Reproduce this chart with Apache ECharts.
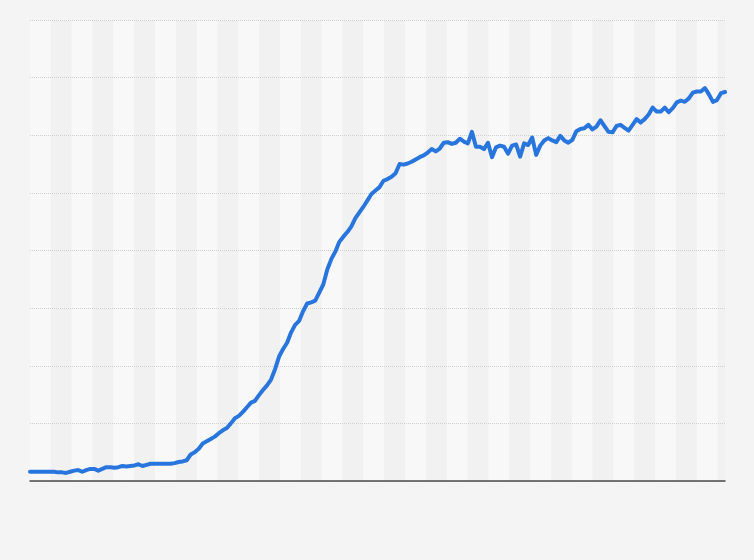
<!DOCTYPE html>
<html>
<head>
<meta charset="utf-8">
<script src="https://cdn.jsdelivr.net/npm/echarts@6/dist/echarts.min.js"></script>
<style>
  html, body { margin: 0; padding: 0; background: #f4f4f4; }
  #chart { width: 754px; height: 560px; }
</style>
</head>
<body>
<div id="chart"></div>
<script>
// Series values, y axis 0..80
const seriesValues = [
  1.6, 1.6, 1.6, 1.6, 1.6, 1.6, 1.6, 1.5, 1.5, 1.4,
  1.6, 1.8, 1.9, 1.6, 1.9, 2.1, 2.1, 1.8, 2.1, 2.4,
  2.4, 2.3, 2.4, 2.6, 2.5, 2.6, 2.7, 2.9, 2.6, 2.8,
  3.0, 3.0, 3.0, 3.0, 3.0, 3.0, 3.1, 3.3, 3.4, 3.6,
  4.6, 5.0, 5.6, 6.5, 6.9, 7.3, 7.7, 8.3, 8.8, 9.2,
  10.0, 10.9, 11.3, 12.0, 12.8, 13.6, 13.9, 14.9, 15.8, 16.6,
  17.6, 19.4, 21.6, 22.9, 24.0, 25.8, 27.1, 27.8, 29.5, 30.8,
  31.0, 31.3, 32.7, 34.1, 36.7, 38.5, 39.8, 41.5, 42.4, 43.2,
  44.2, 45.6, 46.6, 47.6, 48.7, 49.8, 50.4, 51.0, 52.1, 52.4,
  52.8, 53.4, 55.0, 54.9, 55.1, 55.4, 55.8, 56.2, 56.5, 57.0,
  57.6, 57.2, 57.7, 58.7, 58.8, 58.5, 58.7, 59.4, 58.9, 58.6,
  60.6, 58.0, 58.0, 57.6, 58.7, 56.2, 57.9, 58.2, 58.0, 56.8,
  58.2, 58.4, 56.3, 58.6, 58.3, 59.6, 56.6, 58.2, 59.1, 59.5,
  59.1, 58.8, 59.9, 59.1, 58.7, 59.2, 60.7, 61.1, 61.2, 61.8,
  61.0, 61.5, 62.6, 61.6, 60.6, 60.5, 61.6, 61.8, 61.3, 60.8,
  61.8, 62.8, 62.2, 62.8, 63.6, 64.8, 64.1, 64.1, 64.8, 64.0,
  64.7, 65.7, 66.0, 65.8, 66.4, 67.4, 67.6, 67.6, 68.2, 67.1,
  65.8, 66.1, 67.3, 67.5
];
// Category keys for the points (no labels are shown in the reference)
const categories = seriesValues.map((_, i) => String(i + 1));
// Y axis range and step (tick labels are hidden in the reference)
const yMin = 0, yMax = 80, yStep = 10;
// Number of alternating background bands across the plot
const bandCount = 33.35;

const chart = echarts.init(document.getElementById('chart'), null, { renderer: 'canvas' });
chart.setOption({
  backgroundColor: '#f4f4f4',
  animation: false,
  grid: { left: 30, right: 29, top: 20, bottom: 79, containLabel: false },
  xAxis: [
    {
      type: 'value',
      min: 0,
      max: bandCount,
      interval: 1,
      position: 'bottom',
      z: 1,
      axisLine: { show: false },
      axisTick: { show: false },
      axisLabel: { show: false },
      splitLine: { show: false },
      splitArea: { show: true, areaStyle: { color: ['#f8f8f8', '#f1f1f1'] } }
    },
    {
      type: 'category',
      data: categories,
      boundaryGap: false,
      position: 'bottom',
      show: true,
      z: 4,
      axisLine: { show: true, onZero: false, lineStyle: { color: '#4a4a4a', width: 1.5 } },
      axisTick: { show: false },
      axisLabel: { show: false },
      splitLine: { show: false },
      splitArea: { show: false }
    }
  ],
  yAxis: {
    type: 'value',
    min: yMin,
    max: yMax,
    interval: yStep,
    z: 3,
    axisLine: { show: false },
    axisTick: { show: false },
    axisLabel: { show: false },
    splitLine: { show: true, lineStyle: { color: '#d0d0d0', type: [1, 1], width: 1 } }
  },
  series: [{
    type: 'line',
    xAxisIndex: 1,
    data: seriesValues,
    showSymbol: false,
    symbol: 'none',
    smooth: false,
    z: 5,
    lineStyle: { color: '#2876dd', width: 4, join: 'round', cap: 'round' }
  }]
});
</script>
</body>
</html>
